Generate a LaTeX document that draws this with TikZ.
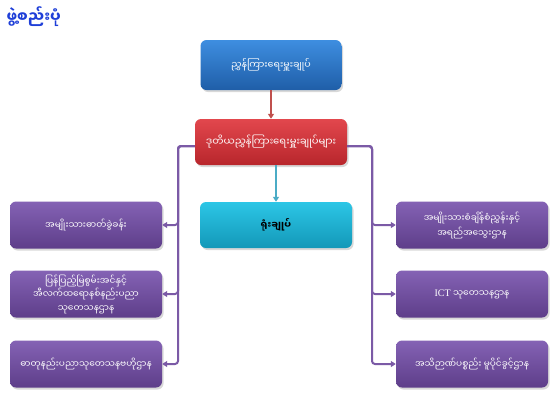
\documentclass[tikz,border=0pt]{standalone}
\usepackage{fontspec}
\newfontfamily\my[Script=Myanmar]{Noto Sans Myanmar UI}
\newfontfamily\lat{Liberation Serif}
\usetikzlibrary{arrows.meta,shadows,calc}
\definecolor{bluetop}{HTML}{3E8EE0}
\definecolor{bluebot}{HTML}{1F5EA8}
\definecolor{redtop}{HTML}{E2474D}
\definecolor{redbot}{HTML}{B8262C}
\definecolor{cyantop}{HTML}{2CC6E6}
\definecolor{cyanbot}{HTML}{1398B8}
\definecolor{purtop}{HTML}{8462B4}
\definecolor{purbot}{HTML}{5E3E8A}
\definecolor{purline}{HTML}{7B5AA6}
\definecolor{redline}{HTML}{C0504D}
\definecolor{cyanline}{HTML}{4BACC6}
\definecolor{titleblue}{HTML}{1F3FD8}
\tikzset{
  orgbox/.style={rounded corners=6pt, align=center, text=white,
    inner sep=2pt, font=\my\fontsize{9}{13.5}\selectfont,
    drop shadow={shadow xshift=1.5pt, shadow yshift=-2pt, opacity=0.3}},
  bluebox/.style={orgbox, minimum width=141pt, minimum height=50pt, top color=bluetop, bottom color=bluebot},
  redbox/.style={orgbox, minimum width=152pt, minimum height=46pt, top color=redtop, bottom color=redbot},
  cyanbox/.style={orgbox, minimum width=152pt, minimum height=46pt, top color=cyantop, bottom color=cyanbot, text=black},
  purbox/.style={orgbox, minimum width=152pt, minimum height=47pt, top color=purtop, bottom color=purbot},
  conn/.style={draw=purline, line width=2pt, rounded corners=3pt, -{Triangle[length=5pt,width=6pt]}},
}
\begin{document}
\begin{tikzpicture}[x=1pt,y=-1pt]
\useasboundingbox (0,0) rectangle (560,400);
\fill[white] (0,0) rectangle (560,400);
\node[anchor=west, text=titleblue, font=\my\bfseries\fontsize{15}{17}\selectfont] (title) at (3,17) {ဖွဲ့စည်းပုံ};

\node[bluebox, font=\my\fontsize{9.5}{12}\selectfont] (b1) at (271,65) {ညွှန်ကြားရေးမှူးချုပ်};
\node[redbox, font=\my\fontsize{10}{12}\selectfont] (b2) at (271,142) {ဒုတိယညွှန်ကြားရေးမှူးချုပ်များ};
\node[cyanbox, font=\my\bfseries\fontsize{9.5}{11}\selectfont] (b3) at (276,225) {ရုံးချုပ်};

\node[purbox] (l1) at (86,225) {အမျိုးသားဓာတ်ခွဲခန်း};
\node[purbox] (l2) at (86,294) {ပြန်ပြည့်မြဲစွမ်းအင်နှင့်\\အီလက်ထရောနစ်နည်းပညာ\\သုတေသနဌာန};
\node[purbox] (l3) at (86,364) {ဓာတုနည်းပညာသုတေသနဗဟိုဌာန};

\node[purbox, font=\my\fontsize{9}{15}\selectfont] (r1) at (472,225) {အမျိုးသားစံချိန်စံညွှန်းနှင့်\\အရည်အသွေးဌာန};
\node[purbox] (r2) at (472,294) {{\lat\fontsize{10}{12}\selectfont ICT} သုတေသနဌာန};
\node[purbox] (r3) at (472,364) {အသိဉာဏ်ပစ္စည်း မူပိုင်ခွင့်ဌာန};

\coordinate (bl) at ($(b2.west)+(0,4)$);
\coordinate (br) at ($(b2.east)+(0,4)$);
\coordinate (cl) at (178,0);
\coordinate (cr) at (372,0);

\draw[draw=redline, line width=2pt, -{Triangle[length=5pt,width=6pt]}] (b1.south) -- (b2.north);
\draw[draw=cyanline, line width=2pt, -{Triangle[length=5pt,width=6pt]}] (b2.south -| b3.north) -- (b3.north);

\foreach \t in {l1,l2,l3} {
  \draw[conn] (bl) -| (cl |- \t.east) -- (\t.east);
}
\foreach \t in {r1,r2,r3} {
  \draw[conn] (br) -| (cr |- \t.west) -- (\t.west);
}
\end{tikzpicture}
\end{document}
